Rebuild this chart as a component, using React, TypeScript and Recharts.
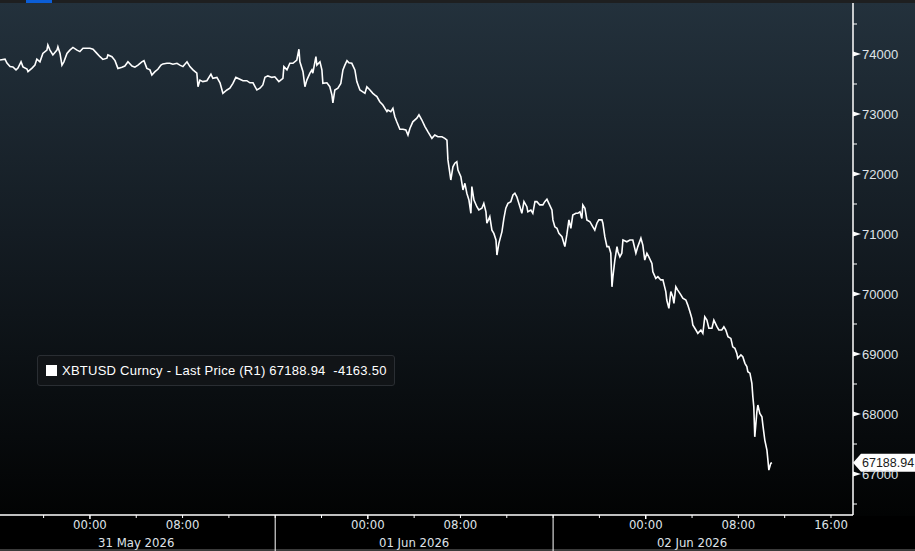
import { LineChart, Line, XAxis, YAxis, ReferenceLine } from 'recharts';

// [minutes from 31 May 2026 00:00, last price]
const xbtA = [
  [-466, 73900], [-440, 73915], [-430, 73850], [-414, 73790], [-399, 73785], [-383, 73735], [-373, 73765],
  [-357, 73870], [-347, 73785], [-326, 73750], [-321, 73705], [-300, 73765], [-285, 73815], [-275, 73915],
  [-259, 73870], [-244, 74010], [-223, 74065], [-218, 74150], [-207, 74065], [-192, 73985], [-171, 74065],
  [-166, 74120], [-155, 74010], [-145, 73815], [-135, 73870], [-119, 74010], [-104, 74065], [-88, 74110],
  [-67, 74065], [-52, 74040], [-36, 74095], [-16, 74095], [0, 74095], [16, 74080], [36, 74010], [52, 73955],
  [67, 73910], [88, 73930], [93, 73985], [114, 73955], [130, 73890], [145, 73760], [166, 73780], [181, 73800],
  [197, 73870], [218, 73800], [233, 73780], [249, 73815], [269, 73870], [280, 73890], [295, 73760], [311, 73735],
  [321, 73650], [337, 73705], [352, 73745], [368, 73815], [378, 73835], [399, 73845], [414, 73845], [430, 73830],
  [451, 73845], [466, 73815], [482, 73790], [503, 73870], [518, 73790], [534, 73735], [554, 73680], [560, 73455],
  [570, 73565], [585, 73540], [606, 73555], [627, 73665], [637, 73595], [658, 73610], [674, 73520],
];

const xbtB = [
  [689, 73345], [710, 73400], [725, 73430], [741, 73510], [756, 73610], [777, 73580], [793, 73555], [813, 73555],
  [829, 73520], [845, 73520], [865, 73400], [881, 73430], [896, 73485], [907, 73610], [922, 73635], [943, 73610],
  [958, 73620], [979, 73540], [1000, 73595], [1005, 73790], [1021, 73735], [1036, 73845], [1052, 73845],
  [1072, 73900], [1083, 74080], [1088, 73870], [1104, 73705], [1114, 73455], [1124, 73565], [1140, 73680],
  [1150, 73735], [1155, 73680], [1171, 73955], [1176, 73815], [1192, 73870], [1202, 73735], [1207, 73510],
  [1228, 73520], [1243, 73455], [1254, 73315], [1259, 73185], [1269, 73400], [1285, 73430], [1300, 73510],
  [1311, 73735], [1321, 73815], [1332, 73890], [1342, 73855], [1357, 73845], [1373, 73735], [1383, 73540],
  [1399, 73400], [1414, 73370], [1425, 73345], [1435, 73455], [1451, 73400], [1466, 73345], [1477, 73315],
  [1487, 73290], [1502, 73205], [1518, 73150], [1539, 73040], [1544, 73065], [1559, 73040], [1570, 73095],
  [1580, 72955], [1590, 72870], [1606, 72745], [1622, 72745], [1637, 72735], [1648, 72650], [1658, 72760],
  [1673, 72870], [1694, 72930], [1705, 72985], [1720, 72900], [1736, 72790], [1751, 72705], [1772, 72595],
  [1787, 72650], [1803, 72620], [1824, 72620], [1839, 72595], [1850, 72565],
];

const xbtC = [
  [1855, 72235], [1870, 71900], [1881, 72120], [1891, 72180], [1901, 72205], [1907, 72065], [1922, 71955],
  [1933, 71735], [1943, 71845], [1953, 71680], [1964, 71565], [1974, 71345], [1979, 71790], [1990, 71565],
  [2005, 71455], [2015, 71400], [2031, 71430], [2041, 71510], [2052, 71370], [2057, 71180], [2072, 71290],
  [2083, 71065], [2093, 71010], [2104, 70900], [2109, 70650], [2119, 70845], [2135, 71040], [2145, 71260],
  [2155, 71430], [2166, 71510], [2181, 71540], [2192, 71650], [2202, 71680], [2212, 71620], [2228, 71455],
  [2238, 71345], [2249, 71540], [2264, 71455], [2269, 71370], [2285, 71400], [2295, 71345], [2306, 71540],
  [2316, 71540], [2331, 71485], [2347, 71485], [2357, 71540], [2368, 71580], [2378, 71510], [2394, 71400],
  [2399, 71235], [2409, 71120], [2420, 71095], [2430, 71010], [2446, 70955], [2451, 70900], [2461, 70790],
  [2471, 70985], [2482, 71235], [2492, 71095], [2502, 71315], [2518, 71345], [2528, 71345], [2539, 71370],
  [2549, 71260], [2554, 71485], [2565, 71430], [2575, 71235], [2591, 71205], [2606, 71120], [2616, 71065],
  [2627, 71180], [2637, 71235], [2653, 71235], [2658, 71180], [2668, 70955], [2679, 70790], [2689, 70790],
  [2699, 70680], [2705, 70120], [2710, 70290], [2720, 70565], [2731, 70790], [2736, 70705], [2746, 70620],
];

const xbtD = [
  [2756, 70680], [2762, 70900], [2782, 70870], [2798, 70900], [2813, 70900], [2829, 70680], [2839, 70790],
  [2855, 70930], [2865, 70815], [2875, 70565], [2886, 70680], [2896, 70620], [2912, 70510], [2917, 70370],
  [2932, 70260], [2943, 70290], [2958, 70235], [2969, 70235], [2984, 70040], [2989, 69900], [3000, 69760],
  [3010, 70040], [3020, 69955], [3026, 69845], [3036, 70120], [3046, 70065], [3062, 69985], [3072, 69930],
  [3088, 69900], [3098, 69815], [3109, 69705], [3119, 69595], [3124, 69485], [3140, 69400], [3150, 69345],
  [3166, 69400], [3176, 69345], [3186, 69620], [3197, 69565], [3207, 69430], [3223, 69430], [3233, 69565],
  [3249, 69455], [3259, 69400], [3274, 69400], [3285, 69455], [3295, 69400], [3306, 69290], [3321, 69260],
  [3331, 69120], [3342, 69095], [3352, 69010], [3357, 68930], [3373, 68985], [3383, 68955], [3394, 68845],
  [3404, 68790], [3409, 68705], [3420, 68680], [3430, 68510], [3435, 68290], [3440, 68120], [3445, 67620],
  [3456, 68040], [3461, 68150], [3471, 68010], [3482, 67955], [3487, 67815], [3497, 67565], [3508, 67400],
  [3513, 67235], [3518, 67065], [3528, 67180], [3534, 67188.94],
];

const lastPrice = 67188.94;
const netChange = -4163.5;

const priceTicks = [66500, 67000, 67500, 68000, 68500, 69000, 69500, 70000, 70500, 71000, 71500, 72000, 72500, 73000, 73500, 74000, 74500];
const timeTicks = [-240, 0, 240, 480, 720, 960, 1200, 1440, 1680, 1920, 2160, 2400, 2640, 2880, 3120, 3360, 3600, 3840];
const timeLabels: Record<number, string> = { 0: '00:00', 480: '08:00', 1440: '00:00', 1920: '08:00', 2880: '00:00', 3360: '08:00', 3840: '16:00' };
const dayLabels: Record<number, string> = { 240: '31 May 2026', 1680: '01 Jun 2026', 3120: '02 Jun 2026' };
const daySeparators = [960, 2400];

const data = [...xbtA, ...xbtB, ...xbtC, ...xbtD].map(([t, price]) => ({ t, price }));

const axisFont = "'Liberation Sans', Arial, sans-serif";
const narrowFont = "'Liberation Sans Narrow', 'DejaVu Sans Condensed', 'Liberation Sans', sans-serif";

function PriceTick({ x, y, payload }: any) {
  const v = payload.value;
  if (v % 1000 !== 0) {
    return <line x1={x} y1={y} x2={x + 4} y2={y} stroke="#ffffff" strokeWidth={1} />;
  }
  return (
    <g>
      <polygon points={`${x},${y - 2.5} ${x + 8},${y} ${x},${y + 2.5}`} fill="#ffffff" />
      <text x={x + 9} y={y} dy={4.5} fill="#dfe3e8" fontSize={13} fontFamily={axisFont}>
        {v}
      </text>
    </g>
  );
}

function TimeTick({ x, y, payload }: any) {
  const v = payload.value;
  const big = timeLabels[v] === '00:00';
  return (
    <g>
      <line x1={x} y1={y} x2={x} y2={y + (big ? 4 : 3)} stroke="#ffffff" strokeWidth={big ? 1.5 : 1} />
      {daySeparators.includes(v) && <line x1={x} y1={y} x2={x} y2={551} stroke="#ffffff" strokeWidth={1} />}
      {timeLabels[v] && (
        <text x={x} y={y + 14} textAnchor="middle" fill="#dfe3e8" fontSize={13} fontFamily={narrowFont}>
          {timeLabels[v]}
        </text>
      )}
      {dayLabels[v] && (
        <text x={x} y={y + 32} textAnchor="middle" fill="#dfe3e8" fontSize={13} fontFamily={narrowFont}>
          {dayLabels[v]}
        </text>
      )}
    </g>
  );
}

function LastTag({ viewBox }: any) {
  const x = viewBox.x + viewBox.width;
  const y = viewBox.y;
  return (
    <g>
      <polygon
        points={`${x},${y} ${x + 8},${y - 9} ${x + 62},${y - 9} ${x + 62},${y + 9} ${x + 8},${y + 9}`}
        fill="#ffffff"
      />
      <text x={x + 9} y={y} dy={4.5} fill="#1a1a1a" fontSize={12.5} fontFamily={axisFont}>
        {lastPrice.toFixed(2)}
      </text>
    </g>
  );
}

export default function App() {
  return (
    <div style={{ position: 'absolute', left: 0, top: 0, width: 915, height: 551, overflow: 'hidden', background: '#000' }}>
      <div style={{ position: 'absolute', left: 0, top: 0, width: 915, height: 3, background: '#1e1f20' }} />
      <div style={{ position: 'absolute', left: 26, top: 0, width: 26, height: 3, background: '#0b5ed7' }} />
      <div
        style={{
          position: 'absolute',
          left: 0,
          top: 3,
          width: 915,
          height: 513,
          background: 'linear-gradient(to bottom, #23313c 0%, #141c23 45%, #020303 100%)',
        }}
      />
      <div style={{ position: 'absolute', left: 0, top: 549, width: 915, height: 2, background: '#3a3a3a' }} />
      <div style={{ position: 'absolute', left: 0, top: 0 }}>
        <LineChart width={915} height={551} data={data} margin={{ top: 3, right: 0, bottom: 0, left: 0 }}>
          <XAxis
            dataKey="t"
            type="number"
            domain={[-466, 3954]}
            allowDataOverflow
            ticks={timeTicks}
            interval={0}
            height={36}
            tickSize={0}
            tickMargin={0}
            axisLine={{ stroke: '#ffffff', strokeWidth: 1.5 }}
            tick={<TimeTick />}
          />
          <YAxis
            orientation="right"
            type="number"
            domain={[66317, 74850]}
            allowDataOverflow
            ticks={priceTicks}
            interval={0}
            width={62}
            tickSize={0}
            tickMargin={0}
            axisLine={{ stroke: '#ffffff', strokeWidth: 1.5 }}
            tick={<PriceTick />}
          />
          <ReferenceLine y={lastPrice} strokeOpacity={0} label={<LastTag />} />
          <Line
            type="linear"
            dataKey="price"
            stroke="#ffffff"
            strokeWidth={1.6}
            dot={false}
            isAnimationActive={false}
          />
        </LineChart>
      </div>
      <div
        style={{
          position: 'absolute',
          left: 37,
          top: 355,
          width: 356,
          height: 29,
          background: '#111417',
          border: '1px solid #2a2e33',
          borderRadius: 3,
          display: 'flex',
          alignItems: 'center',
          fontFamily: axisFont,
          fontSize: 13,
          letterSpacing: 0.25,
          color: '#ffffff',
          whiteSpace: 'pre',
        }}
      >
        <div style={{ width: 11, height: 11, background: '#ffffff', marginLeft: 8, marginRight: 5 }} />
        <span>{`XBTUSD Curncy - Last Price (R1) ${lastPrice.toFixed(2)}  ${netChange.toFixed(2)}`}</span>
      </div>
    </div>
  );
}
